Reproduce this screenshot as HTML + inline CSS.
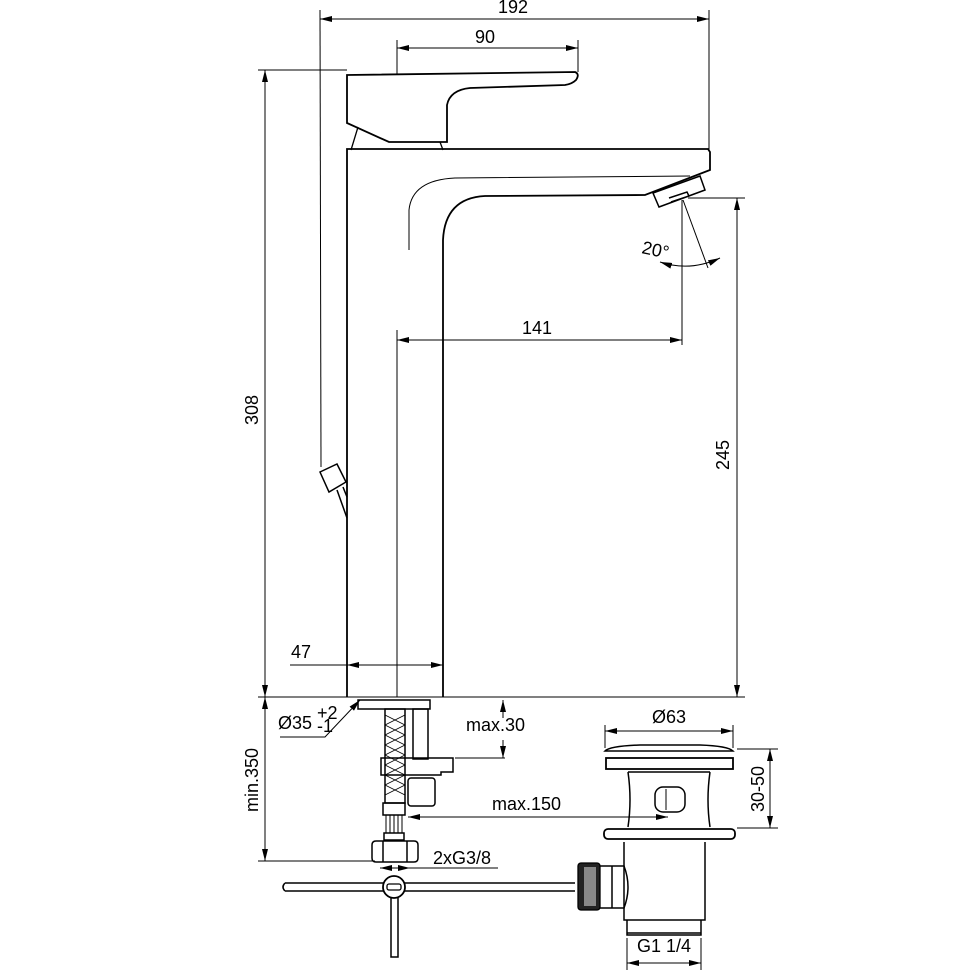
<!DOCTYPE html>
<html><head><meta charset="utf-8"><style>
html,body{margin:0;padding:0;background:#fff;}
svg{display:block;}
text{font-family:"Liberation Sans",sans-serif;font-size:18px;fill:#000;}
</style></head><body>
<svg width="973" height="973" viewBox="0 0 973 973" xmlns="http://www.w3.org/2000/svg">
<defs>
<marker id="a" viewBox="0 0 12 6" refX="12" refY="3" markerWidth="12" markerHeight="6" orient="auto-start-reverse" markerUnits="userSpaceOnUse"><path d="M0,0 L12,3 L0,6z" fill="#000"/></marker>
</defs>
<g stroke="#000" fill="none" stroke-width="1">
<line x1="320" y1="10" x2="321" y2="467"/>
<line x1="709" y1="10" x2="709" y2="150"/>
<line x1="320" y1="19" x2="709" y2="19" marker-start="url(#a)" marker-end="url(#a)"/>
<line x1="397" y1="40" x2="397" y2="75"/>
<line x1="578" y1="40" x2="578" y2="72"/>
<line x1="397" y1="48" x2="578" y2="48" marker-start="url(#a)" marker-end="url(#a)"/>
<line x1="258" y1="70" x2="347" y2="70"/>
<line x1="265" y1="70" x2="265" y2="697" marker-start="url(#a)" marker-end="url(#a)"/>
<line x1="258" y1="697" x2="745" y2="697"/>
<line x1="688" y1="198" x2="745" y2="198"/>
<line x1="737" y1="198" x2="737" y2="697" marker-start="url(#a)" marker-end="url(#a)"/>
<line x1="682" y1="200" x2="682" y2="345"/>
<line x1="397" y1="340" x2="682" y2="340" marker-start="url(#a)" marker-end="url(#a)"/>
<line x1="397" y1="330" x2="397" y2="697"/>
<line x1="683" y1="200" x2="708" y2="268"/>
<path d="M660,262 Q690,272 720,258" marker-start="url(#a)" marker-end="url(#a)"/>
<line x1="290" y1="665" x2="347" y2="665"/>
<line x1="347" y1="665" x2="443" y2="665" marker-start="url(#a)" marker-end="url(#a)"/>
<path stroke-width="1.8" d="M347,75 L575,72 Q580,74 576,80 Q572,84 565,85 L470,88 Q450,90 447,105 L447,142 L389,142 L347,123 Z"/>
<path stroke-width="1.3" d="M351,150 L358,127 M440,142 L443,150"/>
<path stroke-width="1.8" d="M347,697 L347,149 L708,149 L710,152 L710,170 L645,195 L485,196 Q445,198 443,240 L443,697"/>
<path d="M409,250 L409,210 Q412,180 455,178 L690,176"/>
<path stroke-width="1.5" d="M653,193 L700,176 L705,190 L659,207 Z M669,198 L687,192 L689,196 L671,202"/>
<path stroke-width="1.5" d="M320,472 L337,464 L346,482 L329,492 Z M337,490 L347,518 M343,487 L347,497"/>
<rect x="358" y="700" width="72" height="9" stroke-width="1.5"/>
<rect x="385" y="709" width="20" height="94" stroke-width="1.5"/>
<path stroke-width="0.8" d="M385,715 L405,725 M385,725 L405,735 M385,735 L405,745 M385,745 L405,755 M385,755 L405,765 M385,765 L405,775 M385,775 L405,785 M385,785 L405,795 M405,715 L385,725 M405,725 L385,735 M405,735 L385,745 M405,745 L385,755 M405,755 L385,765 M405,765 L385,775 M405,775 L385,785 M405,785 L385,795"/>
<rect x="413" y="709" width="15" height="50" stroke-width="1.5"/>
<path stroke-width="1.5" d="M381,758 L453,758 L453,772 L441,772 L441,775 L381,775 Z"/>
<rect x="408" y="778" width="27" height="28" rx="3" stroke-width="1.5"/>
<rect x="383" y="803" width="22" height="12" stroke-width="1.5"/>
<path d="M386,815 L386,833 M390,815 L390,833 M394,815 L394,833 M398,815 L398,833 M402,815 L402,833"/>
<rect x="384" y="833" width="20" height="7" stroke-width="1.5"/>
<path stroke-width="1.5" d="M376,841 L414,841 Q418,841 418,845 L418,858 Q418,862 414,862 L376,862 Q372,862 372,858 L372,845 Q372,841 376,841 Z M383,841 L383,862 M407,841 L407,862"/>
<line x1="503" y1="718" x2="503" y2="700" marker-end="url(#a)"/>
<line x1="503" y1="740" x2="503" y2="758" marker-end="url(#a)"/>
<line x1="455" y1="758" x2="505" y2="758"/>
<line x1="408" y1="817" x2="668" y2="817" marker-start="url(#a)" marker-end="url(#a)"/>
<line x1="380" y1="868" x2="410" y2="868" marker-start="url(#a)" marker-end="url(#a)"/>
<line x1="410" y1="868" x2="498" y2="868"/>
<line x1="258" y1="861" x2="375" y2="861"/>
<line x1="265" y1="697" x2="265" y2="861" marker-start="url(#a)" marker-end="url(#a)"/>
<path d="M280,737 L325,737 L360,700" marker-end="url(#a)"/>
<path stroke-width="1.5" d="M285,883 L575,883 M285,891 L575,891 M285,883 Q281,887 285,891"/>
<circle cx="394" cy="887" r="11" fill="#fff" stroke-width="1.8"/>
<rect x="387" y="884" width="14" height="6" rx="2" stroke-width="1.3"/>
<path stroke-width="1.5" d="M391,898 L391,957 L398,957 L398,898"/>
<line x1="605" y1="731" x2="733" y2="731" marker-start="url(#a)" marker-end="url(#a)"/>
<line x1="605" y1="725" x2="605" y2="748"/>
<line x1="733" y1="725" x2="733" y2="748"/>
<path stroke-width="1.5" d="M605,751 Q610,746 640,745 L700,745 Q728,746 733,751 Z"/>
<rect x="606" y="758" width="127" height="11" stroke-width="1.8"/>
<path stroke-width="1.5" d="M628,772 L710,772 M628,772 Q632,800 628,827 M710,772 Q706,800 710,827"/>
<rect x="655" y="787" width="30" height="25" rx="8" stroke-width="1.5"/>
<line x1="666" y1="789" x2="666" y2="810"/>
<rect x="604" y="829" width="131" height="10" rx="4" stroke-width="1.8"/>
<path stroke-width="1.5" d="M624,842 L624,920 L705,920 L705,842 M627,920 L627,935 L701,935 L701,920 M627,933 L701,933"/>
<rect x="578" y="863" width="22" height="47" rx="3" fill="#222" stroke-width="1.3"/>
<rect x="584" y="867" width="12" height="39" fill="#888" stroke="none"/>
<path stroke-width="1.5" d="M600,866 L624,866 Q632,887 624,908 L600,908 M612,866 L612,908"/>
<line x1="737" y1="749" x2="778" y2="749"/>
<line x1="737" y1="828" x2="778" y2="828"/>
<line x1="770" y1="749" x2="770" y2="828" marker-start="url(#a)" marker-end="url(#a)"/>
<line x1="627" y1="938" x2="627" y2="970"/>
<line x1="701" y1="938" x2="701" y2="970"/>
<line x1="627" y1="963" x2="701" y2="963" marker-start="url(#a)" marker-end="url(#a)"/>
</g>
<g>
<text x="513" y="13" text-anchor="middle">192</text>
<text x="485" y="43" text-anchor="middle">90</text>
<text x="537" y="334" text-anchor="middle">141</text>
<text x="301" y="658" text-anchor="middle">47</text>
<text transform="translate(258,410) rotate(-90)" text-anchor="middle">308</text>
<text transform="translate(729,455) rotate(-90)" text-anchor="middle">245</text>
<text transform="translate(641,253) rotate(12)" font-size="17">20°</text>
<text x="278" y="729">Ø35</text>
<text x="317" y="719" font-size="10">+2</text>
<text x="317" y="732" font-size="10">-1</text>
<text x="466" y="731">max.30</text>
<text x="492" y="810">max.150</text>
<text x="433" y="864">2xG3/8</text>
<text transform="translate(258,780) rotate(-90)" text-anchor="middle">min.350</text>
<text x="669" y="723" text-anchor="middle">Ø63</text>
<text transform="translate(764,789) rotate(-90)" text-anchor="middle">30-50</text>
<text x="664" y="952" text-anchor="middle">G1 1/4</text>
</g>
</svg>
</body></html>
